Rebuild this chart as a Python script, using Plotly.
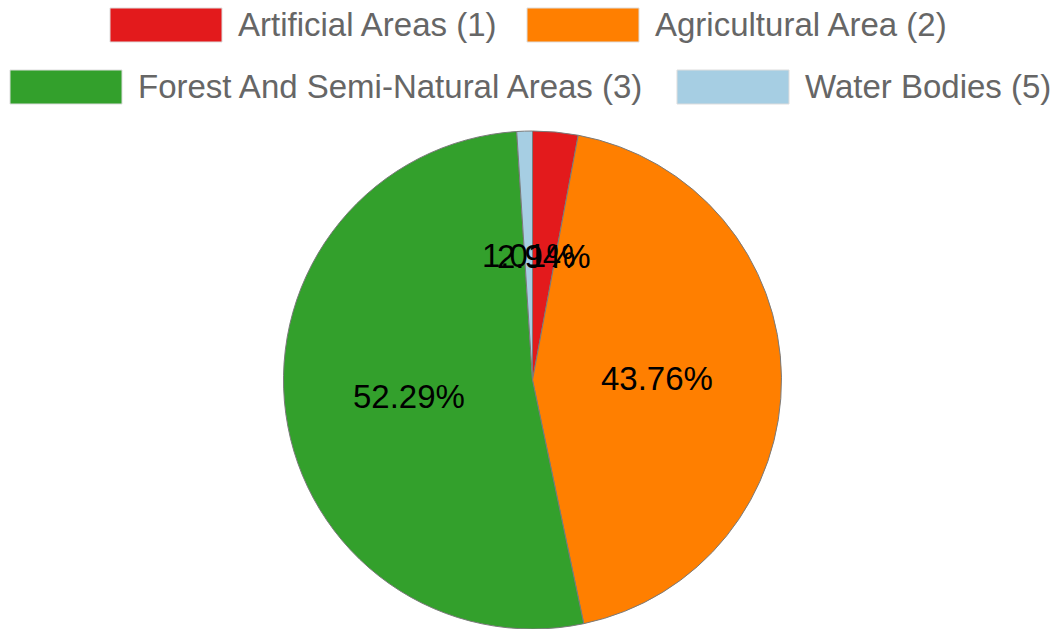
import math
import plotly.graph_objects as go

labels = ["Artificial Areas (1)", "Agricultural Area (2)",
          "Forest And Semi-Natural Areas (3)", "Water Bodies (5)"]
values = [2.94, 43.76, 52.29, 1.01]
colors = ["#e31a1c", "#ff7f00", "#33a02c", "#a6cee3"]

# legend layout (px positions of swatch left edges, rows)
legend_rows = [0, 0, 1, 1]
legend_x = [110, 527, 10, 677]

W, H = 1059, 629
# pie geometry in px
PX0, PX1, PTOP, PBOT = 283, 782, 131, 629

fig = go.Figure()
fig.add_trace(go.Pie(
    labels=labels, values=values, sort=False, direction="clockwise", rotation=0,
    marker=dict(colors=colors, line=dict(color="#7a7a7a", width=1)),
    textinfo="none",
    domain=dict(x=[PX0 / W, PX1 / W], y=[1 - PBOT / H, 1 - PTOP / H]),
    showlegend=False, hoverinfo="label+percent",
))

# percentage labels at half radius of each slice (chart.js datalabels style)
cx, cy = (PX0 + PX1) / 2, (PTOP + PBOT) / 2
R = (PBOT - PTOP) / 2
total = sum(values)
annots = []
cum = 0.0
for v in values:
    mid = (cum + v / 2) / total
    cum += v
    ang = 2 * math.pi * mid
    x = cx + 0.5 * R * math.sin(ang)
    y = cy - 0.5 * R * math.cos(ang)
    annots.append(dict(text=f"{100 * v / total:.2f}%", xref="paper", yref="paper",
                       x=x / W, y=1 - y / H, xanchor="center", yanchor="middle",
                       showarrow=False,
                       font=dict(size=33, color="#000000", family="Liberation Sans, Arial")))

row_y = [25, 87]
shapes = []
for lab, col, r, x0 in zip(labels, colors, legend_rows, legend_x):
    yc = row_y[r]
    shapes.append(dict(type="rect", xref="paper", yref="paper",
                       x0=x0 / W, x1=(x0 + 112) / W,
                       y0=1 - (yc + 17) / H, y1=1 - (yc - 17) / H,
                       fillcolor=col, line=dict(color="#dddddd", width=1)))
    annots.append(dict(text=lab, xref="paper", yref="paper",
                       x=(x0 + 126) / W, y=1 - yc / H, xanchor="left", yanchor="middle",
                       showarrow=False,
                       font=dict(size=33, color="#666666", family="Liberation Sans, Arial")))

fig.update_layout(
    width=W, height=H, margin=dict(l=0, r=0, t=0, b=0),
    paper_bgcolor="white", plot_bgcolor="white",
    shapes=shapes, annotations=annots,
)
fig.write_html("out.html", config={"displayModeBar": False},
               post_script="document.body.style.margin='0px';")
